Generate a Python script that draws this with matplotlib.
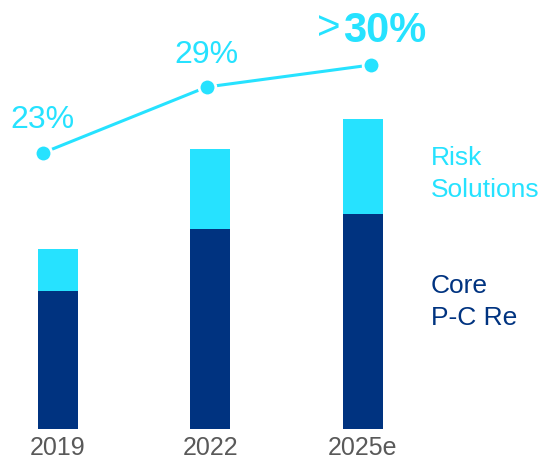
import matplotlib.pyplot as plt

plt.rcParams['font.family'] = ['Liberation Sans', 'DejaVu Sans']

years = ['2019', '2022', '2025e']
core_pc_re = [138, 200, 215]
risk_solutions = [42, 80, 95]
share = [23, 29, 31]
share_labels = ['23%', '29%', '30%']

navy = '#003380'
cyan = '#26E2FF'

fig = plt.figure(figsize=(5.4, 4.6), dpi=100)
ax = fig.add_axes([0, 0, 1, 1])

x = range(len(years))
ax.bar(x, core_pc_re, width=0.262, color=navy)
ax.bar(x, risk_solutions, width=0.262, bottom=core_pc_re, color=cyan)
ax.set_xlim(-0.380, 3.161)
ax.set_ylim(-30, 430)
ax.set_xticks(list(x))
ax.set_xticklabels(years, fontsize=18, color='#595959')
ax.tick_params(axis='x', length=0, pad=-17)
ax.set_yticks([])
for s in ax.spines.values():
    s.set_visible(False)

# line sits on its own x scale (points are not centred on bars)
ax2 = fig.add_axes([0, 0, 1, 1], frameon=False)
ax2.plot(x, share, color=cyan, lw=2.2, marker='o', ms=12,
         mec='white', mew=2, solid_capstyle='butt')
ax2.set_xlim(-0.260, 3.032)
ax2.set_ylim(-4.82, 37)
ax2.set_xticks([])
ax2.set_yticks([])

offs = [26, 25]
for i in range(2):
    ax2.annotate(share_labels[i], (i, share[i]), xytext=(0, offs[i]),
                 textcoords='offset pixels', ha='center', va='baseline',
                 fontsize=23, color=cyan)
ax2.annotate('>', (2, share[2]), xytext=(-30, 27), textcoords='offset pixels',
             ha='right', va='baseline', fontsize=29, color=cyan)
ax2.annotate(share_labels[2], (2, share[2]), xytext=(-28, 24),
             textcoords='offset pixels', ha='left', va='baseline',
             fontsize=30, fontweight='bold', color=cyan)

fig.text(431 / 540, 1 - 146 / 460, 'Risk\nSolutions', ha='left', va='top',
         fontsize=19, color=cyan, linespacing=1.4)
fig.text(431 / 540, 1 - 274 / 460, 'Core\nP-C Re', ha='left', va='top',
         fontsize=19, color=navy, linespacing=1.4)

fig.savefig('out.png', dpi=100)
